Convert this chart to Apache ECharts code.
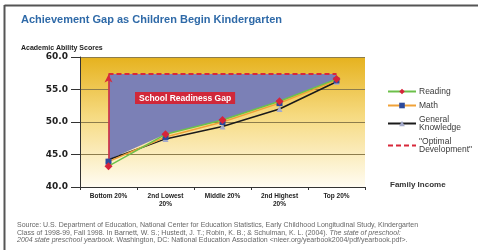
<!doctype html>
<html lang="en">

<head>
    <meta charset="utf-8">
    <title>Achievement Gap as Children Begin Kindergarten</title>
    <script src="https://cdn.jsdelivr.net/npm/echarts@6/dist/echarts.min.js"></script>
    <style>
        html, body { margin: 0; padding: 0; background: #fff; }
        #mychart { width: 478px; height: 250px; }
    </style>
</head>

<body>
    <div id="mychart"></div>

    <script type="text/javascript">
        // chart data
        var categories = ['Bottom 20%', '2nd Lowest\n20%', 'Middle 20%', '2nd Highest\n20%', 'Top 20%'];
        var reading = [43.2, 48.1, 50.3, 53.2, 56.6];
        var math = [43.9, 47.7, 50.0, 52.9, 56.4];
        var generalKnowledge = [44.2, 47.4, 49.3, 52.0, 56.2];
        var optimal = [57.4, 57.4, 57.4, 57.4, 57.4];
        var yTicks = [40, 45, 50, 55, 60];

        // gap area = from the highest of the three lines up to "optimal"
        var gapBase = reading.map(function (v, i) {
            return Math.max(v, math[i], generalKnowledge[i]);
        });
        var gapHeight = optimal.map(function (v, i) {
            return +(v - gapBase[i]).toFixed(2);
        });

        var font = 'Liberation Sans, Arial, sans-serif';

        var myChart = echarts.init(document.getElementById('mychart'), null, { renderer: 'canvas' });
        var option = {
            backgroundColor: '#fff',
            animation: false,
            title: [
                {
                    text: 'Achievement Gap as Children Begin Kindergarten',
                    left: 16, top: 9,
                    textStyle: { color: '#2f6aa8', fontSize: 11, fontWeight: 'bold', fontFamily: font }
                },
                {
                    text: 'Academic Ability Scores',
                    left: 16, top: 40,
                    textStyle: { color: '#222', fontSize: 7, fontWeight: 'bold', fontFamily: font }
                },
                {
                    text: 'Family Income',
                    left: 385, top: 176,
                    textStyle: { color: '#333', fontSize: 8, fontWeight: 'bold', fontFamily: font }
                }
            ],
            legend: {
                orient: 'vertical',
                left: 382, top: 82,
                itemWidth: 28, itemHeight: 7, itemGap: 5,
                data: ['Reading', 'Math', 'General Knowledge',
                    { name: 'Optimal Development', itemStyle: { opacity: 0 } }],
                formatter: function (name) {
                    if (name == 'General Knowledge') return 'General\nKnowledge';
                    if (name == 'Optimal Development') return '"Optimal\nDevelopment"';
                    return name;
                },
                textStyle: { color: '#3a3a3a', fontSize: 8.5, lineHeight: 8, fontFamily: font, padding: [0, 0, 0, -2] }
            },
            grid: {
                left: 80, right: 113, top: 57, bottom: 63,
                show: true,
                borderWidth: 0,
                backgroundColor: new echarts.graphic.LinearGradient(0, 0, 0, 1, [
                    { offset: 0, color: '#e6b21e' },
                    { offset: 0.45, color: '#f6da80' },
                    { offset: 1, color: '#fffcf2' }
                ])
            },
            xAxis: {
                type: 'category',
                data: categories,
                boundaryGap: true,
                axisLine: { lineStyle: { color: '#333', width: 1 } },
                axisTick: { show: true, length: 3, lineStyle: { color: '#333' } },
                axisLabel: {
                    color: '#222', fontSize: 6.5, fontWeight: 'bold', fontFamily: font,
                    margin: 5, lineHeight: 8, interval: 0
                }
            },
            yAxis: {
                type: 'value',
                min: 40, max: 60, interval: 5,
                axisLine: { show: true, lineStyle: { color: '#333', width: 1 } },
                axisTick: { show: true, length: 9, lineStyle: { color: '#333' } },
                axisLabel: {
                    color: '#222', fontSize: 9, fontWeight: 'bold', fontFamily: 'DejaVu Sans, sans-serif', margin: 12,
                    formatter: function (v) { return yTicks.indexOf(v) >= 0 ? v.toFixed(1) : ''; }
                },
                splitLine: { show: true, lineStyle: { color: '#8c7c4c', width: 1 } }
            },
            graphic: [
                // frame on top and left
                { type: 'line', shape: { x1: 4.5, y1: 5.5, x2: 478, y2: 5.5 }, style: { stroke: '#555', lineWidth: 2 } },
                { type: 'line', shape: { x1: 4.5, y1: 5, x2: 4.5, y2: 250 }, style: { stroke: '#555', lineWidth: 2 } },
                {
                    type: 'text', left: 135, top: 92, z: 20,
                    style: {
                        text: 'School Readiness Gap',
                        fill: '#fff', font: 'bold 8.5px ' + font,
                        backgroundColor: '#d0283a', padding: [2, 4, 1, 4]
                    }
                },
                {
                    type: 'text', left: 17, top: 222,
                    style: {
                        text: '{n|Source: U.S. Department of Education, National Center for Education Statistics, Early Childhood Longitudinal Study, Kindergarten}\n' +
                              '{n|Class of 1998-99, Fall 1998. In Barnett, W. S.; Hustedt, J. T.; Robin, K. B.; & Schulman, K. L. (2004). }{i|The state of preschool:}\n' +
                              '{i|2004 state preschool yearbook.}{n| Washington, DC: National Education Association <nieer.org/yearbook2004/pdf/yearbook.pdf>.}',
                        rich: {
                            n: { fill: '#666', font: '7px ' + font, lineHeight: 7.5 },
                            i: { fill: '#666', font: 'italic 7px ' + font, lineHeight: 7.5 }
                        }
                    }
                }
            ],
            series: [
                {
                    name: 'gapBase', type: 'line', stack: 'gap', data: gapBase,
                    symbol: 'none', lineStyle: { opacity: 0 }, silent: true, z: 1
                },
                {
                    name: 'gap', type: 'line', stack: 'gap', data: gapHeight,
                    symbol: 'none', lineStyle: { opacity: 0 }, silent: true, z: 1,
                    areaStyle: { color: '#7b80b6', opacity: 1 }
                },
                {
                    name: 'Optimal Development', type: 'line', data: optimal,
                    symbol: 'none', z: 3,
                    lineStyle: { color: '#d8283a', width: 2, type: [5, 3] },
                    itemStyle: { color: '#d8283a' },
                    markLine: {
                        silent: true,
                        symbol: ['none', 'arrow'], symbolSize: [6, 8],
                        label: { show: false },
                        lineStyle: { color: '#d8283a', width: 1.5, type: 'solid' },
                        data: [[{ coord: [0, gapBase[0]] }, { coord: [0, optimal[0] - 0.1] }]]
                    }
                },
                {
                    name: 'General Knowledge', type: 'line', data: generalKnowledge,
                    symbol: 'triangle', symbolSize: 6, z: 4,
                    lineStyle: { color: '#1a1a1a', width: 1.5 },
                    itemStyle: { color: '#a4aacb' }
                },
                {
                    name: 'Math', type: 'line', data: math,
                    symbol: 'rect', symbolSize: 6, z: 5,
                    lineStyle: { color: '#f0a238', width: 1.5 },
                    itemStyle: { color: '#2c4a9c' }
                },
                {
                    name: 'Reading', type: 'line', data: reading,
                    symbol: 'diamond', symbolSize: 8, z: 6,
                    lineStyle: { color: '#6cc04a', width: 1.5 },
                    itemStyle: { color: '#d6243a' }
                }
            ]
        };
        myChart.setOption(option);
    </script>

</body>

</html>
